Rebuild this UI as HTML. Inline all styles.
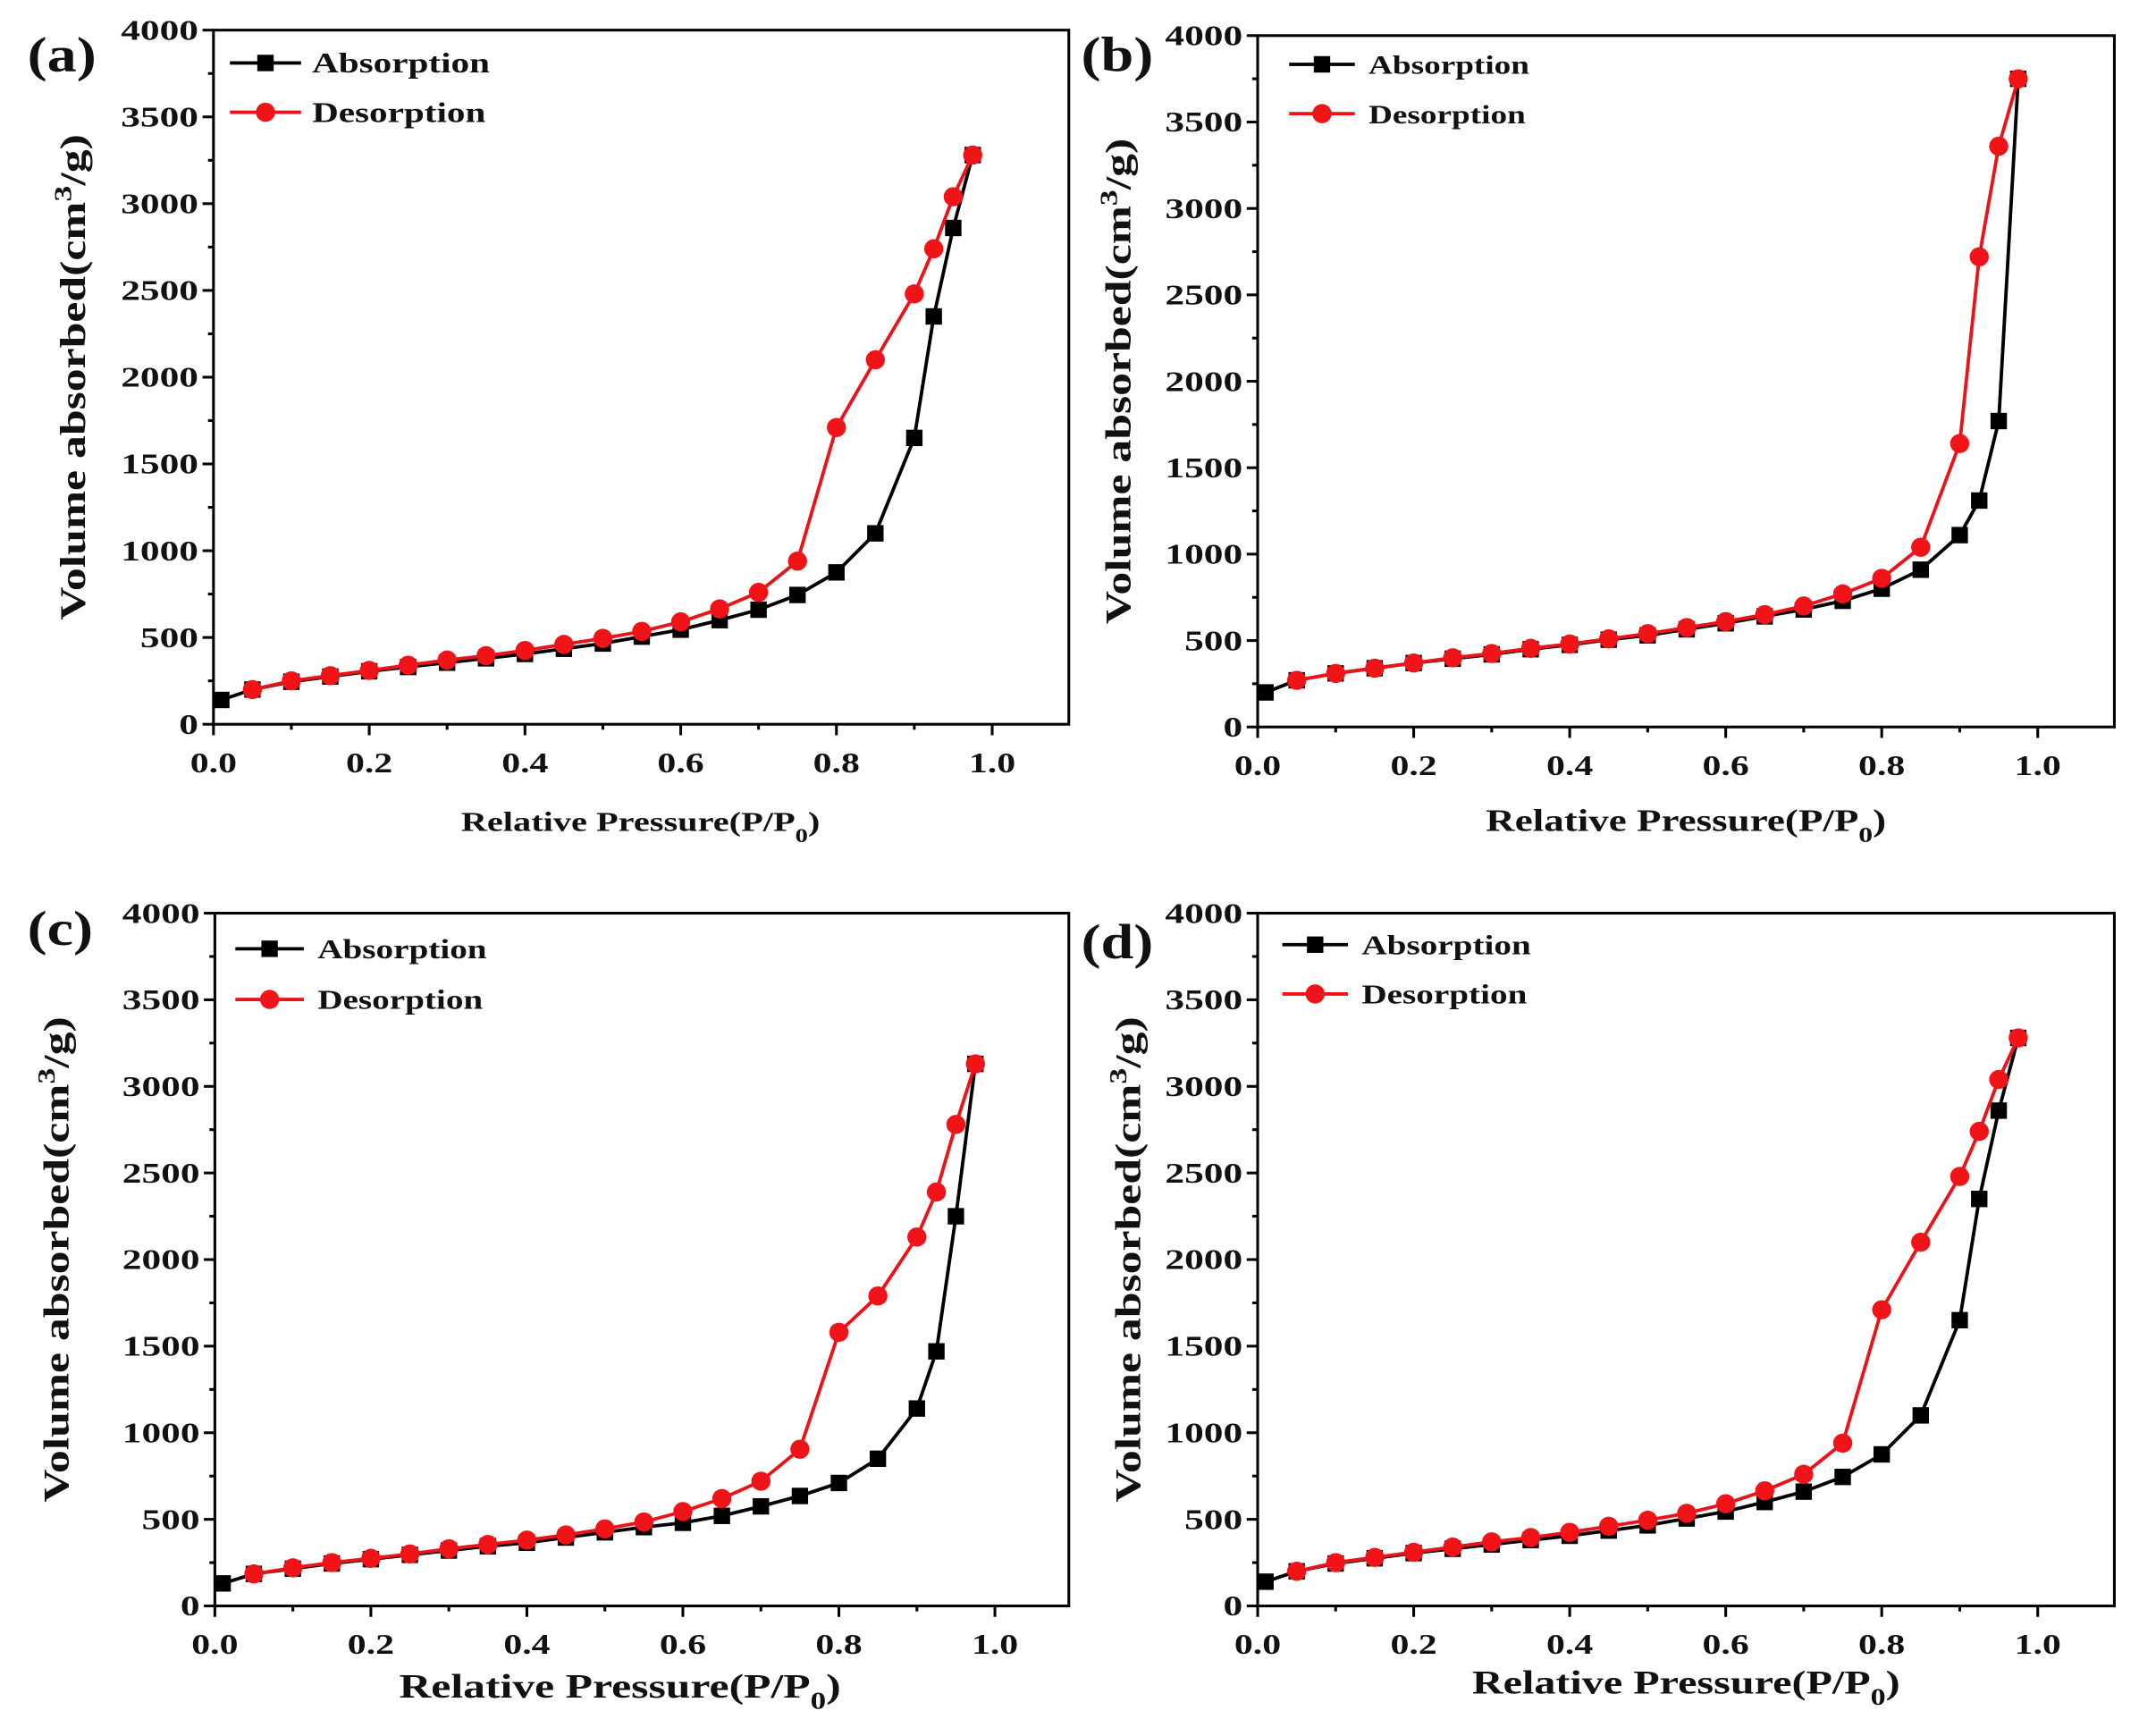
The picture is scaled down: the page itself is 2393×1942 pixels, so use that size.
<!DOCTYPE html>
<html><head><meta charset="utf-8"><style>
html,body{margin:0;padding:0;background:#fff}
svg{display:block}
text{font-family:"Liberation Serif",serif;font-weight:bold;fill:#111}
</style></head><body>
<svg id="s" width="2393" height="1942" viewBox="0 0 1563 1268" preserveAspectRatio="none" xmlns="http://www.w3.org/2000/svg"></svg>
<script>
const X=[0.05,0.1,0.15,0.2,0.25,0.3,0.35,0.4,0.45,0.5,0.55,0.6,0.65,0.7,0.75,0.8,0.85,0.9,0.925,0.95,0.975];
const Xa=[0.01].concat(X);
const ad={a:[140,200,245,275,305,330,355,380,405,435,465,505,545,600,660,745,875,1100,1650,2350,2860,3280],
d:[200,250,280,310,340,370,395,425,460,495,535,590,665,760,940,1710,2100,2480,2740,3040,3280]};
const bd={a:[200,270,310,340,370,395,420,450,475,505,530,565,600,640,680,730,800,910,1110,1310,1770,3750],
d:[270,310,340,370,400,425,455,480,510,540,575,610,650,700,770,860,1040,1640,2720,3360,3750]};
const cd={a:[130,185,215,245,270,295,320,345,365,395,425,455,480,520,575,635,710,850,1140,1470,2250,3130],
d:[185,220,250,275,300,330,355,380,410,445,485,545,620,720,905,1580,1790,2130,2390,2780,3130]};
const panels=[
{L:156,R:781,T:22,B:529,x1:725,data:ad,lab:'(a)',lx:20,ly:52,leg:[168,220,46,82,228,21],yt:62,xt:[468,607,26],ys:26},
{L:919,R:1545,T:26,B:531,x1:1489,data:bd,lab:'(b)',lx:790,ly:52,leg:[942,990,47,83,1000,19],yt:826,xt:[1232,607,29],ys:26},
{L:157,R:781,T:667,B:1173,x1:727,data:cd,lab:'(c)',lx:20,ly:690,leg:[172,222,693,730,232,20],yt:50,xt:[453,1240,32],ys:26},
{L:919,R:1545,T:667,B:1173,x1:1489,data:ad,lab:'(d)',lx:790,ly:700,leg:[937,985,690,726,995,20],yt:833,xt:[1232,1237,31],ys:26}];
const T=(x,y,fs,anc,c,sx,rot)=>`<text transform="translate(${x},${y})${rot?' rotate(-90)':''} scale(${sx},1)" font-size="${fs}" text-anchor="${anc}">${c}</text>`;
let h='';
for(const p of panels){
 const sx=v=>p.L+(p.x1-p.L)*v, sy=v=>p.B-(p.B-p.T)*v/4000;
 h+=`<rect x="${p.L}" y="${p.T}" width="${p.R-p.L}" height="${p.B-p.T}" fill="none" stroke="#000" stroke-width="2"/>`;
 for(let i=0;i<=10;i++){const x=sx(i/10);h+=`<line x1="${x}" x2="${x}" y1="${p.B}" y2="${p.B+(i%2?4:8)}" stroke="#000" stroke-width="2"/>`;
  if(i%2==0)h+=T(x,p.B+35,21,'middle',(i/10).toFixed(1),1.3);}
 for(let v=0;v<=4000;v+=250){const y=sy(v);h+=`<line x1="${p.L}" x2="${p.L-(v%500?4:8)}" y1="${y}" y2="${y}" stroke="#000" stroke-width="2"/>`;
  if(v%500==0)h+=T(p.L-11,y+7,21,'end',v,1.35);}
 const cy=(p.T+p.B)/2;
 h+=T(p.yt,cy,p.ys,'middle',`Volume absorbed(cm<tspan font-size="18" dy="-10">3</tspan><tspan dy="10">/g)</tspan>`,1.3,true);
 h+=T(p.xt[0],p.xt[1],p.xt[2]*0.78,'middle',`Relative Pressure(P/P<tspan font-size="${p.xt[2]*0.55}" dy="8">0</tspan><tspan dy="-8">)</tspan>`,1.3);
 h+=T(p.lx,p.ly,36,'start',p.lab,1.2);
 const pa=Xa.map((x,i)=>[sx(x),sy(p.data.a[i])]), pd=X.map((x,i)=>[sx(x),sy(p.data.d[i])]);
 h+=`<polyline points="${pa.map(q=>q.join(',')).join(' ')}" fill="none" stroke="#000" stroke-width="2.5"/>`;
 pa.forEach(q=>h+=`<rect x="${q[0]-6}" y="${q[1]-6}" width="12" height="12" fill="#000"/>`);
 h+=`<polyline points="${pd.map(q=>q.join(',')).join(' ')}" fill="none" stroke="#e8141a" stroke-width="2.5"/>`;
 pd.forEach(q=>h+=`<circle cx="${q[0]}" cy="${q[1]}" r="7" fill="#f01418"/>`);
 const g=p.leg,m=(g[0]+g[1])/2;
 h+=`<line x1="${g[0]}" x2="${g[1]}" y1="${g[2]}" y2="${g[2]}" stroke="#000" stroke-width="2.5"/><rect x="${m-6}" y="${g[2]-6}" width="12" height="12" fill="#000"/>`;
 h+=T(g[4],g[2]+7,g[5],'start','Absorption',1.28);
 h+=`<line x1="${g[0]}" x2="${g[1]}" y1="${g[3]}" y2="${g[3]}" stroke="#e8141a" stroke-width="2.5"/><circle cx="${m}" cy="${g[3]}" r="7" fill="#f01418"/>`;
 h+=T(g[4],g[3]+7,g[5],'start','Desorption',1.28);
}
document.getElementById('s').innerHTML=h;
</script>
</body></html>
